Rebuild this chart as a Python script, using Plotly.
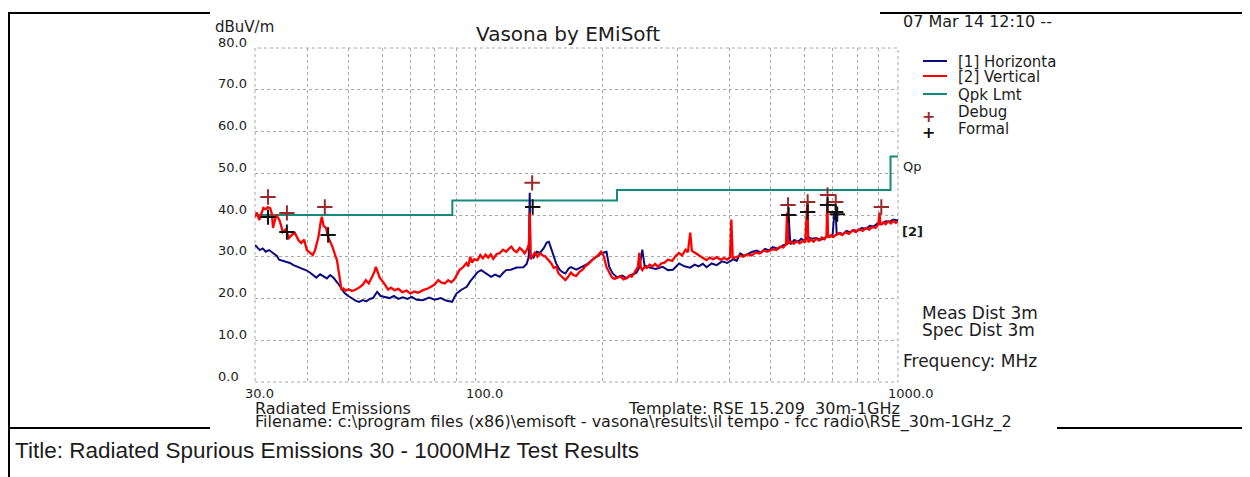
import math
import plotly.graph_objects as go

# ---------------- data ----------------
H_FREQ = [30.0, 30.4, 30.8, 31.3, 31.8, 32.4, 32.9, 33.4, 33.8, 34.2, 34.8, 35.5, 36.3, 37.0, 37.7, 38.3,
          39.0, 39.8, 40.6, 41.3, 41.9, 42.8, 43.6, 44.4, 45.2, 46.1, 47.1, 48.0, 48.9, 49.9, 50.9, 51.9,
          52.9, 54.0, 55.0, 56.1, 57.1, 58.4, 59.5, 61.0, 62.5, 64.0, 65.5, 67.2, 68.9, 70.5, 72.5, 75.0,
          77.5, 80.0, 82.7, 85.0, 87.9, 89.0, 90.2, 92.5, 95.2, 97.0, 98.6, 101.0, 103.0, 105.5, 108.7,
          111.0, 114.0, 116.0, 118.0, 121.0, 125.0, 129.6, 132.0, 133.5, 134.2, 134.8, 137.0, 139.5, 141.9,
          145.0, 147.2, 149.0, 150.5, 152.0, 155.0, 158.0, 160.5, 163.0, 166.0, 168.0, 173.0, 179.0, 184.0,
          189.0, 194.0, 199.0, 204.0, 207.0, 211.0, 216.0, 222.0, 228.0, 234.0, 240.0, 244.0, 248.0, 251.0,
          258.0, 267.0, 277.0, 285.0, 293.0, 303.0, 312.0, 322.0, 330.0, 337.0, 345.0, 352.0, 362.0, 372.0,
          383.0, 394.0, 408.0, 415.0, 423.0, 432.0, 440.0, 452.0, 463.0, 474.0, 484.0, 495.0, 505.0, 520.0,
          535.0, 545.0, 551.0, 556.0, 568.0, 580.0, 590.0, 600.0, 612.0, 625.0, 640.0, 655.0, 668.0, 680.0,
          690.0, 700.0, 707.0, 712.0, 716.0, 728.0, 740.0, 755.0, 770.0, 785.0, 801.0, 820.0, 840.0, 858.0,
          876.0, 895.0, 915.0, 935.0, 955.0, 975.0, 1000.0]
H_LEVEL = [32.8, 32.1, 31.6, 32.0, 31.2, 31.6, 31.1, 30.7, 30.2, 29.3, 29.1, 28.7, 28.5, 28.0, 27.7, 27.4,
           27.0, 26.7, 26.1, 25.5, 25.0, 25.8, 25.2, 24.8, 25.6, 24.9, 23.7, 22.4, 21.3, 20.6, 20.0, 19.5,
           19.2, 19.6, 19.3, 19.9, 20.1, 21.6, 20.6, 20.3, 20.1, 20.6, 19.9, 20.3, 19.9, 20.4, 19.7, 19.6,
           20.2, 19.7, 20.1, 19.5, 19.2, 20.3, 21.3, 22.1, 22.8, 24.1, 25.1, 26.3, 26.8, 26.0, 25.2,
           25.7, 25.2, 26.1, 26.8, 26.9, 27.4, 27.5, 28.3, 30.0, 45.3, 30.4, 29.8, 31.2, 30.9,
           32.1, 33.4, 33.6, 32.0, 31.0, 28.4, 26.9, 26.3, 26.0, 27.2, 27.5, 26.9, 27.6, 28.3,
           29.3, 30.2, 30.9, 31.2, 27.6, 26.0, 25.1, 25.5, 24.9, 25.7, 26.1, 27.4, 31.7, 27.9,
           27.4, 27.1, 27.6, 26.8, 26.9, 28.4, 27.7, 27.4, 28.1, 27.7, 28.3, 27.5, 28.4, 28.0,
           28.9, 28.5, 29.4, 29.0, 30.8, 30.2, 30.6, 31.2, 31.5, 31.0, 31.9, 31.5, 32.3, 31.9,
           32.8, 33.0, 39.5, 33.0, 34.0, 33.6, 34.3, 33.8, 34.8, 34.3, 34.5, 34.1, 34.3, 35.1,
           34.8, 35.3, 40.6, 40.3, 35.2, 35.7, 35.4, 36.2, 35.9, 36.4, 36.2, 36.9, 36.7, 37.4,
           37.3, 38.0, 37.8, 38.5, 38.4, 38.9, 38.7]

V_FREQ = [30.0, 30.3, 30.7, 31.0, 31.4, 31.8, 32.2, 32.6, 32.9, 33.1, 33.4, 33.7, 34.0, 34.3, 34.6, 34.9,
          35.5, 36.1, 36.8, 37.3, 38.0, 38.6, 39.2, 39.8, 40.5, 41.1, 41.6, 41.9, 42.4, 42.9, 43.2, 43.6,
          44.2, 44.6, 45.2, 45.8, 46.4, 46.9, 47.3, 47.7, 48.1, 48.6, 49.2, 50.0, 50.9, 51.8, 52.9, 54.0,
          54.9, 55.8, 56.8, 57.5, 58.0, 58.6, 59.2, 60.5, 62.0, 63.0, 64.2, 65.6, 67.0, 68.5, 70.0, 71.5,
          73.0, 75.0, 77.0, 78.5, 80.0, 81.5, 83.0, 84.5, 86.0, 87.5, 89.0, 91.5, 93.5, 95.0, 96.0, 97.0,
          98.0, 99.0, 101.0, 102.5, 104.0, 105.5, 107.0, 108.5, 110.0, 112.0, 114.0, 116.0, 118.0, 120.0,
          121.5, 123.0, 125.0, 127.0, 128.5, 130.5, 132.5, 133.6, 134.2, 134.8, 136.5, 138.0, 140.0, 142.0,
          144.0, 146.0, 148.0, 151.0, 153.0, 155.0, 157.0, 159.0, 161.0, 163.0, 165.5, 168.0, 170.5, 173.0,
          176.0, 179.0, 182.0, 185.0, 189.0, 192.0, 195.0, 198.0, 201.0, 204.0, 207.0, 210.0, 213.0, 216.0,
          220.0, 224.0, 228.0, 231.0, 234.0, 237.0, 240.0, 242.0, 244.0, 246.0, 248.0, 251.0, 254.0, 258.0,
          262.0, 266.0, 270.0, 275.0, 280.0, 285.0, 292.0, 297.0, 303.0, 308.0, 314.0, 318.0, 322.0, 325.0,
          330.0, 336.0, 343.0, 352.0, 358.0, 365.0, 372.0, 380.0, 387.0, 394.0, 400.0, 403.0, 406.0, 414.0,
          422.0, 430.0, 440.0, 450.0, 460.0, 470.0, 480.0, 490.0, 505.0, 515.0, 525.0, 535.0, 543.0, 546.0,
          549.0, 558.0, 567.0, 575.0, 585.0, 595.0, 603.0, 610.0, 613.0, 622.0, 631.0, 640.0, 650.0, 660.0,
          670.0, 677.0, 680.0, 683.0, 692.0, 702.0, 712.0, 725.0, 738.0, 750.0, 765.0, 780.0, 795.0, 810.0,
          825.0, 840.0, 855.0, 870.0, 885.0, 898.0, 904.0, 909.0, 922.0, 935.0, 948.0, 962.0, 975.0, 988.0,
          1000.0]
V_LEVEL = [39.5, 40.6, 38.8, 39.9, 41.7, 41.4, 41.9, 41.6, 40.2, 36.9, 38.6, 40.1, 39.4, 38.7, 37.4, 35.9,
           36.6, 34.5, 35.4, 35.7, 34.0, 33.3, 34.1, 31.6, 31.0, 30.4, 31.5, 32.8, 34.7, 38.2, 39.6, 37.4,
           36.9, 35.0, 33.8, 32.3, 30.5, 29.2, 26.8, 24.0, 22.0, 22.4, 21.9, 22.2, 21.8, 22.1, 22.6, 23.3,
           24.4, 23.6, 25.2, 26.3, 27.6, 26.0, 25.0, 23.8, 22.1, 22.6, 22.0, 22.3, 21.5, 21.9, 21.2, 21.7,
           21.4, 22.0, 22.4, 22.9, 23.4, 24.4, 23.8, 23.6, 24.4, 23.9, 24.6, 26.8, 27.6, 28.5, 27.7, 30.0,
           28.6, 29.4, 29.2, 30.4, 29.6, 30.5, 29.8, 30.6, 29.5, 30.6, 30.9, 31.7, 31.2, 32.0,
           32.4, 31.6, 31.1, 32.1, 31.7, 30.8, 31.9, 33.0, 40.6, 29.4, 30.4, 31.0, 30.0, 30.8,
           30.3, 30.1, 29.4, 28.4, 27.3, 27.6, 26.0, 25.5, 25.0, 24.4, 25.2, 26.2, 25.6, 25.4,
           26.4, 26.9, 27.8, 28.3, 29.3, 29.8, 30.4, 31.2, 30.1, 27.5, 26.2, 25.1, 24.7, 24.9,
           25.3, 24.6, 24.9, 25.5, 25.2, 26.0, 26.8, 27.5, 30.9, 27.4, 26.8, 27.6, 27.3, 28.1,
           27.7, 28.3, 27.6, 28.4, 28.6, 29.3, 29.0, 30.1, 30.9, 30.3, 31.7, 31.1, 35.8, 31.4,
           31.0, 30.4, 29.9, 29.2, 29.8, 29.4, 29.9, 29.3, 29.7, 29.3, 29.9, 38.9, 29.7, 29.9,
           30.3, 30.0, 30.6, 30.3, 31.0, 30.8, 31.5, 31.2, 31.8, 31.6, 32.4, 32.2, 33.0, 40.6,
           33.2, 33.6, 33.1, 33.7, 33.2, 33.8, 33.4, 43.2, 33.5, 34.1, 33.6, 34.3, 33.9, 34.6,
           34.2, 34.8, 43.2, 34.6, 35.1, 34.7, 35.2, 35.6, 35.2, 35.9, 35.5, 36.3, 35.9, 36.6,
           36.2, 36.9, 36.5, 37.2, 36.9, 37.7, 40.6, 37.6, 38.2, 37.8, 38.5, 38.0, 38.6, 38.1,
           38.4]

LIMIT_FREQ = [30, 88, 88, 216, 216, 960, 960, 1000]
LIMIT_LEVEL = [40, 40, 43.5, 43.5, 46, 46, 54, 54]

DEBUG_FREQ = [32.2, 35.7, 43.9, 136.0, 549, 611, 681, 712, 913]
DEBUG_LEVEL = [44.3, 40.5, 41.9, 47.7, 42.4, 43.1, 44.8, 43.1, 41.9]
FORMAL_FREQ = [32.2, 35.7, 44.7, 136.4, 551, 611, 681, 712, 718]
FORMAL_LEVEL = [39.5, 35.9, 35.2, 41.9, 40.0, 40.7, 42.4, 40.7, 40.2]

X_GRID = [30, 40, 50, 60, 70, 80, 90, 100, 200, 300, 400, 500, 600, 700, 800, 900, 1000]
X_LABELS = {30: "30.0", 100: "100.0", 1000: "1000.0"}
Y_GRID = [0, 10, 20, 30, 40, 50, 60, 70, 80]
Y_LABELS = ["0.0", "10.0", "20.0", "30.0", "40.0", "50.0", "60.0", "70.0", "80.0"]

# ---------------- layout helpers (page pixel -> paper) ----------------
# the page body has an 8px margin, so the figure starts at (8, 8) on the page
OFF = 8
W, H = 1250 - OFF, 477 - OFF
PL, PR, PT, PB = 255, 898, 48, 382


def px(x):
    return (x - OFF) / W


def py(y):
    return 1 - (y - OFF) / H


FONT = "DejaVu Sans"
TXT = "#1c1c1c"
NAVY = "#0a0a80"
RED = "#ff0000"
TEAL = "#15897c"
DEBUG_C = "#9a2a2a"
GRID = "#a8a8a8"

fig = go.Figure()
fig.add_trace(go.Scatter(x=LIMIT_FREQ, y=LIMIT_LEVEL, mode="lines",
                         line=dict(color=TEAL, width=2), name="Qpk Lmt"))
fig.add_trace(go.Scatter(x=H_FREQ, y=H_LEVEL, mode="lines",
                         line=dict(color=NAVY, width=2), name="[1] Horizontal"))
fig.add_trace(go.Scatter(x=V_FREQ, y=V_LEVEL, mode="lines",
                         line=dict(color=RED, width=2.3), name="[2] Vertical"))
fig.add_trace(go.Scatter(x=DEBUG_FREQ, y=DEBUG_LEVEL, mode="markers", name="Debug",
                         marker=dict(symbol="cross-thin", size=11, color=DEBUG_C,
                                     line=dict(color=DEBUG_C, width=2))))
fig.add_trace(go.Scatter(x=FORMAL_FREQ, y=FORMAL_LEVEL, mode="markers", name="Formal",
                         marker=dict(symbol="cross-thin", size=11, color="#111111",
                                     line=dict(color="#111111", width=2))))

fig.update_layout(
    width=W, height=H, autosize=False,
    margin=dict(l=0, r=0, t=0, b=0),
    paper_bgcolor="white", plot_bgcolor="white",
    showlegend=False,
    font=dict(family=FONT, color=TXT),
    xaxis=dict(type="log", range=[math.log10(30), math.log10(1000)],
               domain=[px(PL), px(PR)], tickvals=X_GRID, showticklabels=False,
               showgrid=True, gridcolor=GRID, griddash="dot", gridwidth=1,
               zeroline=False, showline=False, ticks=""),
    yaxis=dict(range=[0, 80], domain=[py(PB), py(PT)], tickvals=Y_GRID,
               showticklabels=False, showgrid=True, gridcolor=GRID, griddash="dot",
               gridwidth=1, zeroline=False, showline=False, ticks=""),
)

shapes = []
shapes.append(dict(type="rect", xref="x domain", yref="y domain", x0=0, x1=1, y0=0, y1=1,
                   line=dict(color=GRID, width=1, dash="dot"), layer="below"))


def hline(x0, x1, y, color="black", width=2):
    shapes.append(dict(type="line", xref="paper", yref="paper", x0=px(x0), x1=px(x1),
                       y0=py(y), y1=py(y), line=dict(color=color, width=width)))


def vline(x, y0, y1, color="black", width=2):
    shapes.append(dict(type="line", xref="paper", yref="paper", x0=px(x), x1=px(x),
                       y0=py(y0), y1=py(y1), line=dict(color=color, width=width)))


# table borders around the chart picture
hline(8, 210, 13)
hline(880, 1250, 13)
hline(8, 210, 428)
hline(1057, 1250, 428)
vline(9, 12, 477)

# legend lines
hline(923, 947, 61, NAVY, 2)
hline(923, 947, 76, RED, 2)
hline(923, 947, 94, TEAL, 2)

fig.update_layout(shapes=shapes)

ann = []


def text(x, y, s, size, xanchor="left", color=TXT, family=FONT, bold=False):
    if bold:
        s = "<b>" + s + "</b>"
    ann.append(dict(xref="paper", yref="paper", x=px(x), y=py(y), text=s, showarrow=False,
                    xanchor=xanchor, yanchor="middle", borderpad=0,
                    font=dict(size=size, color=color, family=family)))


for v, lab in zip(Y_GRID, Y_LABELS):
    ann.append(dict(xref="paper", yref="y", x=px(217), y=v, text=lab, showarrow=False,
                    xanchor="left", yanchor="middle", yshift=6, borderpad=0,
                    font=dict(size=13, color=TXT)))
for v, lab in X_LABELS.items():
    ann.append(dict(xref="x", yref="paper", x=math.log10(v), y=py(393), text=lab, showarrow=False,
                    xanchor="left", yanchor="middle", xshift=-11, borderpad=0,
                    font=dict(size=13, color=TXT)))

text(214, 27, "dBuV/m", 15)
text(568, 34, "Vasona by EMiSoft", 20, xanchor="center")
text(902, 21, "07 Mar 14 12:10 --", 16)

text(957, 62, "[1] Horizonta", 15)
text(957, 77, "[2] Vertical", 15)
text(957, 95, "Qpk Lmt", 15)
text(957, 112, "Debug", 15)
text(957, 129, "Formal", 15)
text(928, 116, "<b>+</b>", 16, xanchor="center", color=DEBUG_C)
text(928, 133, "<b>+</b>", 16, xanchor="center", color="#111111")

text(902, 166, "Qp", 13)
text(901, 231, "[2]", 13, bold=True)

text(921, 313, "Meas Dist 3m", 17)
text(921, 330, "Spec Dist 3m", 17)
text(902, 361, "Frequency: MHz", 17)

text(254, 408, "Radiated Emissions", 16)
text(627, 408, "Template: RSE 15.209\u00a0 30m-1GHz", 16)
text(254, 422, r"Filename: c:\program files (x86)\emisoft - vasona\results\il tempo - fcc radio\RSE_30m-1GHz_2", 16)

text(14, 450, "Title: Radiated Spurious Emissions 30 - 1000MHz Test Results", 22.5,
     family="Liberation Sans")

fig.update_layout(annotations=ann)

fig.write_html("out.html")
